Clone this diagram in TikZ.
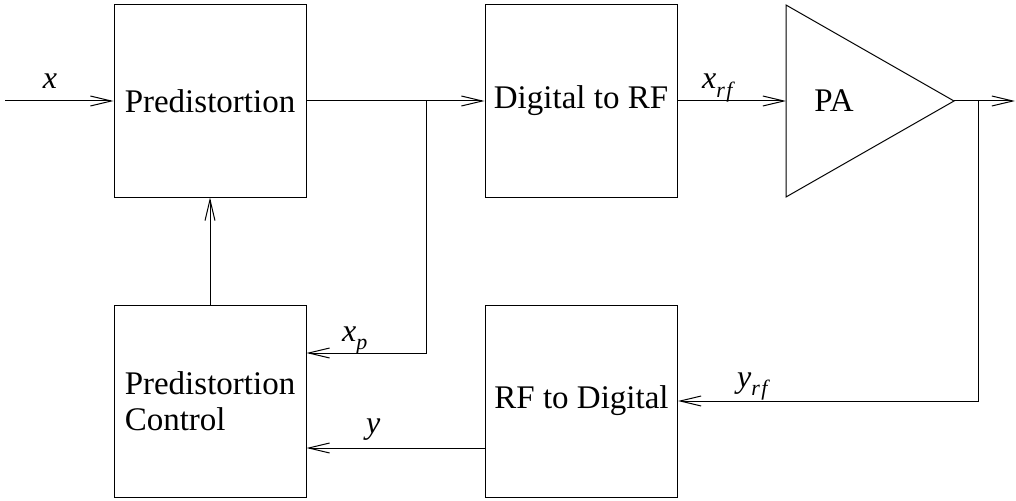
\documentclass[tikz,border=0pt]{standalone}
\usepackage{fontspec}
\setmainfont{Liberation Serif}
\usetikzlibrary{arrows.meta}
\newcommand\lbl[2]{\textit{#1}\raisebox{-0.27em}{\fontsize{22}{24}\selectfont\textit{#2}}}
\begin{document}
\begin{tikzpicture}[x=1pt,y=-1pt,
  blk/.style={draw,line width=1pt,minimum width=192pt,minimum height=192pt,inner sep=0pt,font=\fontsize{33}{38}\selectfont},
  conn/.style={line width=1pt,-{Straight Barb[length=21pt,width=10pt,line width=1pt]}},
  lab/.style={font=\fontsize{32}{36}\selectfont,inner sep=0pt}]
\useasboundingbox (0,0) rectangle (1016,500);
\node[blk] (pre) at (210,101) {Predistortion};
\node[blk] (d2rf) at (581,101) {Digital to RF};
\node[blk] (ctrl) at (210,401) {};
\node[align=left,font=\fontsize{33}{36}\selectfont,inner sep=0pt] (ctrltxt) at (ctrl.center) {Predistortion\\Control};
\node[blk] (rf2d) at (581.5,401) {RF to Digital};
\draw[line width=1pt,line join=miter] (786,5) -- (786,197) -- (954,101) -- cycle;
\coordinate (pain) at (786,101);
\coordinate (paout) at (954,101);
\node[font=\fontsize{33}{38}\selectfont] (pa) at (834,101) {PA};
\coordinate (in) at (5,101);
\coordinate (out) at (1015,101);
\coordinate (br1) at (426,101);
\coordinate (br2) at (978,101);
\coordinate (br1d) at (426,353);
\coordinate (br2d) at (978,401);
\draw[conn] (in) -- (pre.west);
\draw[conn] (pre.east) -- (d2rf.west);
\draw[conn] (d2rf.east) -- (pain);
\draw[conn] (paout) -- (out);
\draw[conn] (br1) -- (br1d) -- (ctrl.east |- br1d);
\draw[conn] (br2) -- (br2d) -- (rf2d.east);
\draw[conn] (rf2d.west |- 0,448) -- (ctrl.east |- 0,448);
\draw[conn] (ctrl.north) -- (pre.south);
\node[lab,anchor=base] (lx) at (50,89) {\textit{x}};
\node[lab,anchor=base west] (lxrf) at (702,89) {\lbl{x}{r\kern1.5pt f}};
\node[lab,anchor=base west] (lxp) at (342,341) {\lbl{x}{p}};
\node[lab,anchor=base west] (ly) at (366,433) {\textit{y}};
\node[lab,anchor=base west] (lyrf) at (737,387) {\lbl{y}{r\kern1.5pt f}};
\end{tikzpicture}
\end{document}
